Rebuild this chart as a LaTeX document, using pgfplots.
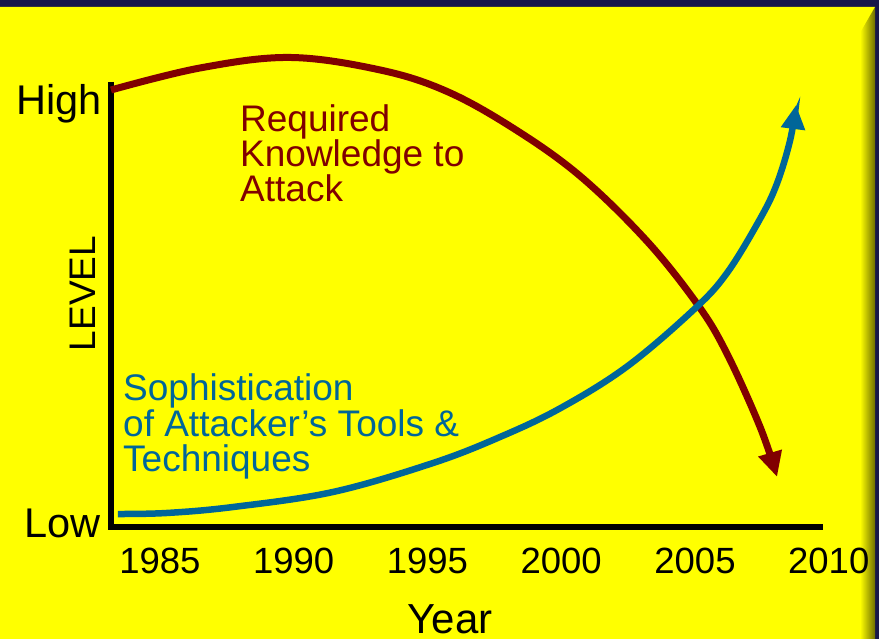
\documentclass[border=0pt]{standalone}
\usepackage{fontspec}
\setmainfont{Liberation Sans}
\usepackage{pgfplots}
\pgfplotsset{compat=1.18}
\usetikzlibrary{arrows.meta}

\definecolor{framenavy}{HTML}{17174A}
\definecolor{slide}{HTML}{FFFF00}
\definecolor{bevelhi}{HTML}{FFFF58}
\definecolor{beveldk}{HTML}{6E6E00}
\definecolor{knowred}{HTML}{800000}
\definecolor{toolblue}{HTML}{006699}

% Required knowledge to attack (level 0 = low, 100 = high)
\pgfplotstableread{
year    level
1983.17 98.20
1986.50 103.15
1989.86 105.51
1993.23 102.70
1995.72 97.90
1998.21 89.60
2000.70 78.90
2003.20 64.27
2005.11 49.89
2006.19 39.03
2007.43 22.54
2008.07 11.24
}\knowledge

% Sophistication of attacker's tools & techniques
\pgfplotstableread{
year    level
1983.43 2.92
1985.26 3.15
1987.73 4.49
1991.47 7.87
1995.21 14.38
1997.71 20.22
1999.96 26.67
2002.45 36.02
2004.94 48.76
2006.19 57.01
2007.43 69.20
2008.06 77.08
2008.55 86.74
2008.78 94.83
}\tools

\begin{document}
\begin{tikzpicture}[x=1bp,y=1bp]
\useasboundingbox (0,0) rectangle (879,639);
% slide background with bevelled frame
\fill[framenavy] (0,0) rectangle (879,639);
\fill[slide] (0,0) rectangle (875,632);
\shade[top color=slide, middle color=bevelhi, bottom color=slide]
  (0,632) -- (875,632) -- (860,606) -- (26,606) -- cycle;
\shade[left color=slide, right color=beveldk]
  (860,606) -- (875,632) -- (875,0) -- (860,0) -- cycle;

\begin{axis}[
  at={(111bp,112bp)}, anchor=south west,
  scale only axis, width=725.73bp, height=445bp,
  xmin=1983.17, xmax=2010.3, ymin=0, ymax=100,
  axis line style={draw=none},
  tick style={draw=none},
  major tick length=0pt,
  xtick={1985,1990,1995,2000,2005,2010},
  ytick=\empty,
  /pgf/number format/assume math mode=true,
  /pgf/number format/1000 sep={},
  xticklabel style={font=\fontsize{36.5bp}{40bp}\selectfont, anchor=north,
    inner sep=0pt, yshift=-21bp},
  clip=false,
]
% axes as a single L-shaped stroke
\draw[line width=6.8bp, black] (axis cs:1983.17,100) |- (axis cs:2009.79,0);

\addplot[knowred, line width=7bp, smooth, tension=0.6,
  -{Triangle[length=25bp,width=23bp]}] table[x=year,y=level] {\knowledge};
\addplot[toolblue, line width=6.5bp, smooth, tension=0.6,
  -{Triangle[length=24bp,width=23bp]}] table[x=year,y=level] {\tools};
\end{axis}

% level labels
\node[anchor=base east, inner sep=0pt, font=\fontsize{41.5bp}{46bp}\selectfont]
  at (102,524) {High};
\node[anchor=base east, inner sep=0pt, font=\fontsize{41.5bp}{46bp}\selectfont]
  at (101,101) {Low};
\node[rotate=90, anchor=base, inner sep=0pt, font=\fontsize{37bp}{40bp}\selectfont]
  at (95,345.5) {LEVEL};
\node[anchor=base, inner sep=0pt, font=\fontsize{42bp}{46bp}\selectfont]
  at (450,5) {Year};

% curve captions
\begin{scope}[every node/.style={anchor=base west, inner sep=0pt,
    font=\fontsize{37bp}{40bp}\selectfont}]
  \node[text=knowred] at (240,507) {Required};
  \node[text=knowred] at (240,472) {Knowledge to};
  \node[text=knowred] at (240,437) {Attack};
  \node[text=toolblue] at (123,238) {Sophistication};
  \node[text=toolblue] at (123,202) {of Attacker’s Tools \&};
  \node[text=toolblue] at (123,167) {Techniques};
\end{scope}
\end{tikzpicture}
\end{document}
